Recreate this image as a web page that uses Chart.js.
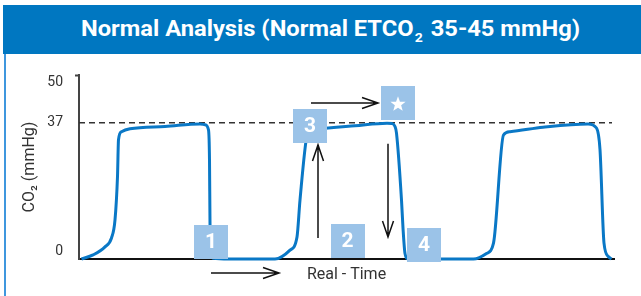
<!DOCTYPE html>
<html>
<head>
<meta charset="utf-8">
<script src="https://cdn.jsdelivr.net/npm/chart.js@4"></script>
<style>
  html, body { margin: 0; padding: 0; background: #fff; }
  body { width: 641px; height: 296px; position: relative; overflow: hidden; font-family: Roboto, sans-serif; }
  #hdr { position: absolute; left: 3px; right: 0; top: 5px; height: 49px; background: #0077c1; }
  #hdr-text { position: absolute; left: 78px; top: 9px; color: #fff; font: bold 22px Roboto, sans-serif;
              white-space: nowrap; transform-origin: 0 0; line-height: 30px; }
  #hdr-text sub { font-size: 13px; line-height: 0; vertical-align: -6px; margin: 0 2px 0 1px; }
  #edge { position: absolute; left: 4px; top: 54px; width: 2px; height: 242px; background: #3f97de; }
  #wrap { position: absolute; left: 0; top: 54px; width: 641px; height: 242px; }
</style>
</head>
<body>
<div id="hdr"><span id="hdr-text">Normal Analysis (Normal ETCO<sub>2</sub> 35-45 mmHg)</span></div>
<div id="edge"></div>
<div id="wrap"><canvas id="chart"></canvas></div>
<script>
// capnogram trace (time in s, CO2 in mmHg)
const traceTime = [0.05, 0.28, 0.52, 0.65, 0.72, 0.77, 0.79, 0.85, 1.02, 1.72, 2.42, 2.52, 2.59, 2.61, 2.62, 2.64, 2.68, 3.00,
                   3.92, 4.22, 4.36, 4.42, 4.56, 4.62, 4.74, 5.52, 6.16, 6.26, 6.32, 6.35, 6.45, 6.48, 6.52, 6.58, 7.20,
                   7.89, 8.15, 8.29, 8.49, 8.62, 9.28, 10.18, 10.35, 10.42, 10.50, 10.59, 10.65];
const traceCO2  = [0, 1.1, 3.3, 5.7, 10.6, 22.4, 32.4, 34.6, 35.4, 36.0, 36.7, 36.5, 35.1, 26.9, 9.8, 2.5, 0.2, 0,
                   0, 2.4, 6.0, 16.0, 33.7, 35.0, 35.3, 36.2, 36.9, 36.8, 36.0, 34.2, 16.0, 8.4, 1.5, 0, 0,
                   0, 1.5, 4.3, 33.7, 34.6, 35.8, 36.7, 35.6, 29.7, 4.3, 0.6, 0];
const yTicks = [0, 37, 50];
const refLevel = 37;
const timeRange = [0, 10.7];
const refSpan = [0, 10.66];

// numbered phase markers and arrows, anchored in data units
const markers = [
  { text: '1', t: 2.64, co2: 4.6 },
  { text: '2', t: 5.37, co2: 4.9 },
  { text: '3', t: 4.62, co2: 36.2 },
  { text: '4', t: 6.90, co2: 3.8 },
  { text: 'star', t: 6.38, co2: 42.3 }
];
const arrows = [
  { from: [4.78, 5.7],  to: [4.78, 31.0] },
  { from: [6.18, 31.3], to: [6.18, 6.0] },
  { from: [4.64, 42.4], to: [5.98, 42.4] },
  { from: [2.64, -3.8], to: [4.00, -3.8] }
];

// fit header text to the reference width
const ht = document.getElementById('hdr-text');
const hw = ht.getBoundingClientRect().width;
ht.style.transform = 'scaleX(' + (499 / hw) + ')';

const BOX = 34;

const annotate = {
  id: 'annotate',
  afterDatasetsDraw(chart) {
    const { ctx, scales: { x, y } } = chart;
    ctx.save();
    // arrows
    ctx.strokeStyle = '#111';
    ctx.lineWidth = 1.5;
    arrows.forEach(a => {
      const x1 = x.getPixelForValue(a.from[0]), y1 = y.getPixelForValue(a.from[1]);
      const x2 = x.getPixelForValue(a.to[0]), y2 = y.getPixelForValue(a.to[1]);
      const ang = Math.atan2(y2 - y1, x2 - x1);
      ctx.beginPath();
      ctx.moveTo(x1, y1);
      ctx.lineTo(x2, y2);
      ctx.moveTo(x2 - 16 * Math.cos(ang) + 5.5 * Math.sin(ang), y2 - 16 * Math.sin(ang) - 5.5 * Math.cos(ang));
      ctx.lineTo(x2, y2);
      ctx.lineTo(x2 - 16 * Math.cos(ang) - 5.5 * Math.sin(ang), y2 - 16 * Math.sin(ang) + 5.5 * Math.cos(ang));
      ctx.stroke();
    });
    // boxes
    markers.forEach(m => {
      const cx = x.getPixelForValue(m.t), cy = y.getPixelForValue(m.co2);
      ctx.fillStyle = '#9bc3e8';
      ctx.fillRect(Math.round(cx - BOX / 2), Math.round(cy - BOX / 2), BOX, BOX);
      ctx.fillStyle = '#fff';
      if (m.text === 'star') {
        ctx.beginPath();
        for (let i = 0; i < 10; i++) {
          const r = i % 2 ? 3.3 : 8;
          const a = -Math.PI / 2 + i * Math.PI / 5;
          ctx.lineTo(cx + r * Math.cos(a), cy + 1 + r * Math.sin(a));
        }
        ctx.closePath();
        ctx.fill();
      } else {
        ctx.font = 'bold 21px Roboto, sans-serif';
        ctx.textAlign = 'center';
        ctx.textBaseline = 'middle';
        ctx.fillText(m.text, cx, cy + 1);
      }
    });
    ctx.restore();
  }
};

new Chart(document.getElementById('chart'), {
  type: 'line',
  data: {
    datasets: [
      {
        data: traceTime.map((t, i) => ({ x: t, y: traceCO2[i] })),
        borderColor: '#0a78c6',
        borderWidth: 3,
        pointRadius: 0,
        cubicInterpolationMode: 'monotone',
        clip: false,
        fill: false
      },
      {
        data: refSpan.map(t => ({ x: t, y: refLevel })),
        borderColor: '#333',
        borderWidth: 1.5,
        borderDash: [6, 4],
        pointRadius: 0,
        fill: false
      }
    ]
  },
  options: {
    responsive: true,
    maintainAspectRatio: false,
    animation: false,
    layout: { padding: { top: 21, right: 27, left: 0, bottom: 0 } },
    plugins: { legend: { display: false }, tooltip: { enabled: false } },
    scales: {
      x: {
        type: 'linear',
        min: timeRange[0],
        max: timeRange[1],
        grid: { display: false },
        border: { color: '#111', width: 2 },
        ticks: { display: false },
        title: {
          display: true,
          text: 'Real - Time',
          color: '#333',
          font: { family: 'Roboto', size: 16 },
          padding: { top: 0, bottom: 11 }
        },
        afterFit: s => { s.height = 37; }
      },
      y: {
        min: 0,
        max: 50,
        afterBuildTicks: s => { s.ticks = yTicks.map(v => ({ value: v })); },
        grid: {
          drawOnChartArea: false,
          drawTicks: true,
          tickLength: 4,
          tickWidth: 2,
          color: c => c.tick && c.tick.value === 50 ? '#444' : 'rgba(0,0,0,0)'
        },
        border: { color: '#444', width: 2 },
        ticks: {
          color: '#333',
          padding: 12,
          font: { family: 'Roboto', size: 14, lineHeight: 1.1 },
          // top label sits a little under its tick, bottom one a little above
          callback: v => v === 50 ? ['', '50'] : v === 0 ? ['0', ''] : String(v)
        },
        title: {
          display: true,
          text: 'CO₂ (mmHg)',
          color: '#333',
          font: { family: 'Roboto', size: 16 },
          padding: { top: 20, bottom: 0 }
        },
        afterFit: s => {
          s.width = 79;
          s.paddingTop = 0;
          s.paddingBottom = 0;
        }
      }
    }
  },
  plugins: [annotate]
});
</script>
</body>
</html>
